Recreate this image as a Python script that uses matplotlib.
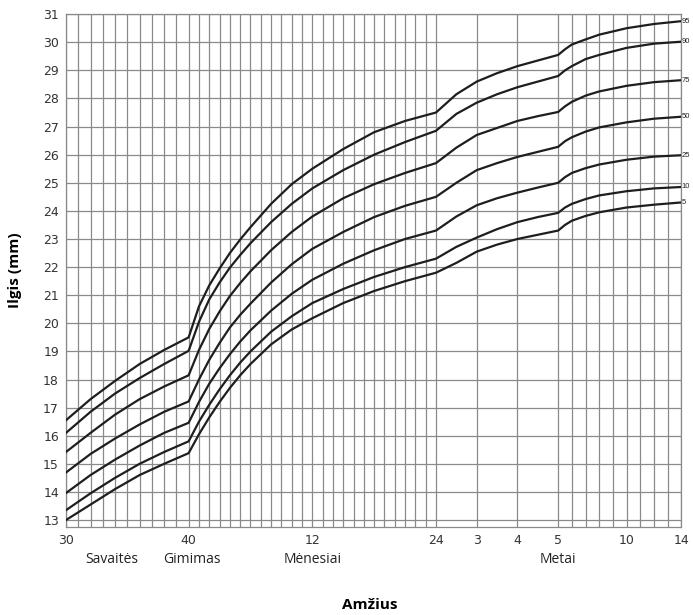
import numpy as np
import matplotlib.pyplot as plt
from matplotlib import transforms

# ages: gestational weeks, then months after birth, then years
weeks = [30, 32, 34, 36, 38, 40]
months = [1, 2, 3, 4, 5, 6, 8, 10, 12, 15, 18, 21, 24]
years = [2.5, 3, 3.5, 4, 4.5, 5, 5.5, 6, 7, 8, 10, 12, 14]

p95 = [16.55, 17.3, 17.95, 18.55, 19.05, 19.5,
       20.6, 21.35, 21.95, 22.5, 22.98, 23.42, 24.25, 24.95, 25.5, 26.2, 26.8, 27.2, 27.5,
       28.15, 28.6, 28.9, 29.15, 29.35, 29.55, 29.75, 29.92, 30.1, 30.27, 30.5, 30.65, 30.75]
p90 = [16.1, 16.85, 17.5, 18.05, 18.55, 19.02,
       20.05, 20.85, 21.45, 21.98, 22.43, 22.85, 23.6, 24.25, 24.8, 25.45, 26.0, 26.45, 26.85,
       27.45, 27.85, 28.15, 28.4, 28.6, 28.8, 29.0, 29.15, 29.4, 29.55, 29.8, 29.95, 30.02]
p75 = [15.42, 16.1, 16.75, 17.3, 17.75, 18.15,
       19.05, 19.8, 20.42, 20.97, 21.43, 21.85, 22.6, 23.25, 23.8, 24.45, 24.95, 25.35, 25.7,
       26.25, 26.7, 26.95, 27.2, 27.37, 27.52, 27.72, 27.88, 28.1, 28.25, 28.45, 28.58, 28.65]
p50 = [14.69, 15.35, 15.9, 16.4, 16.85, 17.22,
       18.0, 18.7, 19.3, 19.85, 20.3, 20.7, 21.45, 22.1, 22.65, 23.25, 23.78, 24.18, 24.5,
       25.0, 25.45, 25.7, 25.92, 26.1, 26.28, 26.48, 26.62, 26.82, 26.97, 27.15, 27.28, 27.35]
p25 = [13.96, 14.6, 15.15, 15.65, 16.1, 16.46,
       17.2, 17.85, 18.4, 18.9, 19.35, 19.75, 20.45, 21.05, 21.55, 22.12, 22.6, 23.0, 23.3,
       23.8, 24.2, 24.45, 24.65, 24.83, 25.0, 25.2, 25.35, 25.52, 25.65, 25.82, 25.93, 25.98]
p10 = [13.35, 13.95, 14.5, 15.0, 15.42, 15.8,
       16.5, 17.1, 17.65, 18.15, 18.6, 19.0, 19.7, 20.25, 20.72, 21.22, 21.65, 22.0, 22.3,
       22.72, 23.05, 23.35, 23.6, 23.78, 23.93, 24.12, 24.25, 24.42, 24.55, 24.7, 24.8, 24.85]
p5 = [13.0, 13.55, 14.1, 14.6, 15.0, 15.38,
      16.05, 16.65, 17.2, 17.7, 18.15, 18.55, 19.25, 19.78, 20.18, 20.72, 21.15, 21.5, 21.8,
      22.15, 22.55, 22.8, 23.0, 23.15, 23.3, 23.5, 23.65, 23.82, 23.95, 24.12, 24.22, 24.3]

curves = [p95, p90, p75, p50, p25, p10, p5]
curve_labels = ['95', '90', '75', '50', '25', '10', '5']

tick_pos_weeks = [30, 40]
tick_pos_months = [12, 24]
tick_pos_years = [3, 4, 5, 10, 14]
tick_labels = ['30', '40', '12', '24', '3', '4', '5', '10', '14']


def wk2mo(w):
    return (np.asarray(w, dtype=float) - 40) * 12 / 52


# piecewise axis: weeks | months 0-24 | years 2-5 | years 5-14
brk = [wk2mo(30), 0, 24, 60, 168]
pos = [0, 122.5, 369.5, 491.5, 614.5]


def fwd(x):
    return np.interp(x, brk, pos)


def inv(y):
    return np.interp(y, pos, brk)


age = np.concatenate([wk2mo(weeks), months, np.array(years) * 12])

fig = plt.figure(figsize=(6.93, 6.15), dpi=100)
ax = fig.add_axes([0.0952, 0.143, 0.888, 0.834])
ax.set_xscale('function', functions=(fwd, inv))

for vals in curves:
    ax.plot(age, vals, color='#1e1e1e', lw=1.6, zorder=3)

# percentile labels squeezed into the strip at the right edge
for vals, lab in zip(curves, curve_labels):
    ax.text(1.0005, vals[-1], lab, transform=ax.get_yaxis_transform(),
            fontsize=5.5, family='Liberation Sans', color='#222',
            va='center', ha='left')

ax.set_xlim(wk2mo(30), 168)
ax.set_ylim(12.75, 31)

major = list(wk2mo(tick_pos_weeks)) + tick_pos_months + [y * 12 for y in tick_pos_years]
ax.set_xticks(major)
ax.set_xticklabels(tick_labels)
minor = list(wk2mo(np.arange(30, 41))) + list(range(0, 25)) + [y * 12 for y in range(2, 15)]
ax.set_xticks(minor, minor=True)
ax.set_yticks(range(13, 32))
ax.tick_params(which='both', length=0, labelsize=9, colors='#333')
ax.tick_params(axis='x', pad=5)
ax.tick_params(axis='y', pad=5)
ax.grid(which='both', color='#8a8a8a', lw=0.9)
ax.set_axisbelow(True)
for s in ax.spines.values():
    s.set_color('#8a8a8a')
    s.set_linewidth(0.9)

tr = transforms.blended_transform_factory(ax.transData, ax.transAxes)
sub = [(wk2mo(33.75), 'Savaitės'), (0.3, 'Gimimas'), (12, 'Mėnesiai'), (60, 'Metai')]
for x, t in sub:
    ax.text(x, -0.064, t, transform=tr, ha='center', va='center',
            fontsize=10, family='Open Sans', color='#222')

fig.text(0.534, 0.017, 'Amžius', ha='center', va='center', fontsize=11,
         fontweight='bold', family='Open Sans')
fig.text(0.021, 0.561, 'Ilgis (mm)', ha='center', va='center', rotation=90,
         fontsize=11, fontweight='bold', family='Open Sans')

plt.savefig('out.png', dpi=100)
